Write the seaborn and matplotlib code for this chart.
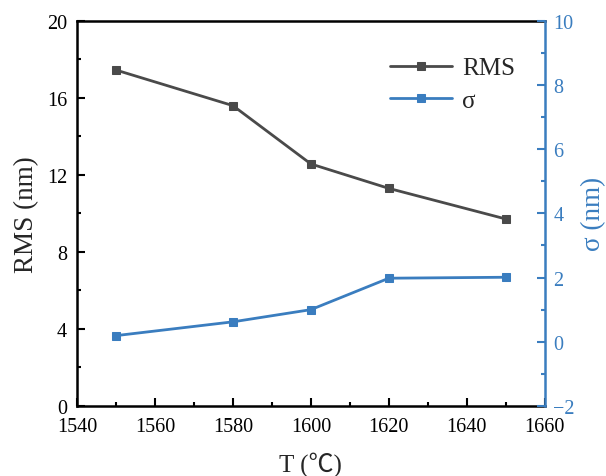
import pandas as pd
import matplotlib
matplotlib.use("Agg")
import matplotlib.pyplot as plt
import seaborn as sns
from matplotlib.ticker import MultipleLocator

# Données
temperature = [1550, 1580, 1600, 1620, 1650]
rms_nm = [17.45, 15.6, 12.57, 11.3, 9.71]
sigma_nm = [0.19, 0.62, 1.0, 1.98, 2.01]

gray = "#4a4a4a"
blue = "#3a7dbf"

sns.set_style("ticks")
plt.rcParams["font.family"] = ["Liberation Serif", "DejaVu Sans"]
plt.rcParams["font.size"] = 14.5

df = pd.DataFrame({"T": temperature, "RMS": rms_nm, "sigma": sigma_nm})

fig, ax = plt.subplots(figsize=(6.06, 4.77), dpi=100)
fig.subplots_adjust(left=0.127, right=0.899, top=0.954, bottom=0.147)
ax2 = ax.twinx()

sns.lineplot(data=df, x="T", y="RMS", ax=ax, color=gray, marker="s",
             markersize=6, markeredgecolor=gray, linewidth=2, label="RMS", legend=False)
sns.lineplot(data=df, x="T", y="sigma", ax=ax2, color=blue, marker="s",
             markersize=6, markeredgecolor=blue, linewidth=2, label="σ", legend=False)

ax.set_xlim(1540, 1660)
ax.set_ylim(0, 20)
ax2.set_ylim(-2, 10)
ax.xaxis.set_major_locator(MultipleLocator(20))
ax.xaxis.set_minor_locator(MultipleLocator(10))
ax.yaxis.set_major_locator(MultipleLocator(4))
ax.yaxis.set_minor_locator(MultipleLocator(2))
ax2.yaxis.set_major_locator(MultipleLocator(2))
ax2.yaxis.set_minor_locator(MultipleLocator(1))

ax.set_xlabel("T (℃)", fontsize=18, labelpad=11,
              family=["Liberation Serif", "Noto Sans CJK SC"])
ax.set_ylabel("RMS (nm)", fontsize=19.5, labelpad=6)
ax2.set_ylabel("σ (nm)", fontsize=19.5, color=blue, labelpad=5)

ax.tick_params(which="both", direction="in", width=1.5, colors="black", labelsize=14.5)
ax.tick_params(axis="x", pad=8)
ax.tick_params(axis="y", pad=7)
ax.tick_params(which="major", length=6)
ax.tick_params(which="minor", length=3)
ax2.tick_params(which="both", direction="in", width=1.5, colors=blue, labelsize=14.5, pad=6)
ax2.tick_params(which="major", length=6)
ax2.tick_params(which="minor", length=3)

for side in ["left", "bottom", "top"]:
    ax.spines[side].set_linewidth(1.8)
    ax.spines[side].set_color("black")
ax2.spines["right"].set_linewidth(1.8)
ax2.spines["right"].set_color(blue)
ax2.spines["left"].set_visible(False)
ax2.spines["top"].set_visible(False)
ax2.spines["bottom"].set_visible(False)
ax.spines["right"].set_visible(False)

h1, l1 = ax.get_legend_handles_labels()
h2, l2 = ax2.get_legend_handles_labels()
ax.legend(h1 + h2, l1 + l2, loc="upper right", bbox_to_anchor=(0.985, 0.965),
          frameon=False, fontsize=18, handlelength=2.5, labelspacing=0.4, handletextpad=0.4)

plt.savefig("out.png", dpi=100)
plt.close()
